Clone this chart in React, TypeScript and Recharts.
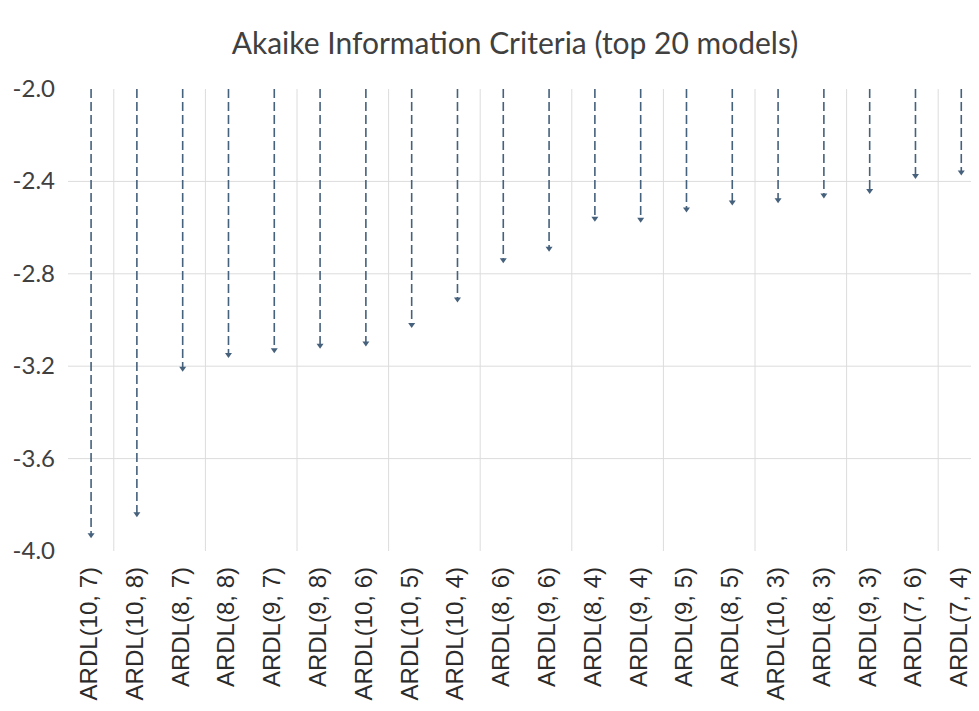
import React from 'react'
import { ComposedChart, Bar, XAxis, YAxis, CartesianGrid } from 'recharts'

const models = [
  'ARDL(10, 7)', 'ARDL(10, 8)', 'ARDL(8, 7)', 'ARDL(8, 8)', 'ARDL(9, 7)',
  'ARDL(9, 8)', 'ARDL(10, 6)', 'ARDL(10, 5)', 'ARDL(10, 4)', 'ARDL(8, 6)',
  'ARDL(9, 6)', 'ARDL(8, 4)', 'ARDL(9, 4)', 'ARDL(9, 5)', 'ARDL(8, 5)',
  'ARDL(10, 3)', 'ARDL(8, 3)', 'ARDL(9, 3)', 'ARDL(7, 6)', 'ARDL(7, 4)',
]
const aicValues = [
  -3.94, -3.85, -3.22, -3.16, -3.14,
  -3.12, -3.11, -3.03, -2.92, -2.75,
  -2.70, -2.57, -2.575, -2.53, -2.50,
  -2.49, -2.47, -2.45, -2.385, -2.37,
]
const yTicks = [-2.0, -2.4, -2.8, -3.2, -3.6, -4.0]
const gridValues = [-2.4, -2.8, -3.2, -3.6]

const data = models.map((name, i) => ({ name, aic: aicValues[i] }))

const LINE = '#46617c'
const TEXT = '#404040'

// dashed drop line from the top of the axis down to the criterion value
function DropLine(props: any) {
  const { x, y, width, height } = props
  const cx = x + width / 2
  const top = Math.min(y, y + height)
  const bottom = Math.max(y, y + height)
  return (
    <g>
      <line x1={cx} y1={top} x2={cx} y2={bottom - 2} stroke={LINE} strokeWidth={1.6} strokeDasharray="9 4" />
      <path d={`M${cx - 3.5},${bottom - 4} L${cx + 3.5},${bottom - 4} L${cx},${bottom + 1} Z`} fill={LINE} />
    </g>
  )
}

function ModelTick(props: any) {
  const { x, y, payload } = props
  return (
    <text
      x={0}
      y={0}
      transform={`translate(${x + 6},${y + 8}) rotate(-90)`}
      textAnchor="end"
      fontFamily="'Liberation Sans', Arial, sans-serif"
      fontSize={24}
      fill="#2b2b2b"
    >
      {payload.value}
    </text>
  )
}

function ValueTick(props: any) {
  const { x, y, payload } = props
  return (
    <text x={x - 5} y={y + 8} textAnchor="end" fontFamily="Lato, sans-serif" fontSize={24} fill={TEXT}>
      {payload.value.toFixed(1)}
    </text>
  )
}

// a vertical rule after every second model
const pairLines = ({ offset }: any) =>
  models.map((_, k) => k).filter(k => k % 2 === 1).map(k => offset.left + (offset.width * k) / models.length)

export default function App() {
  return (
    <div style={{ position: 'relative', width: 971, height: 695, overflow: 'hidden', background: '#fff' }}>
      <div
        style={{
          position: 'absolute', top: 16, left: 0, width: 1014, textAlign: 'center',
          fontFamily: 'Lato, sans-serif', fontSize: 30, color: TEXT, whiteSpace: 'nowrap',
        }}
      >
        Akaike Information Criteria (top 20 models)
      </div>
      <ComposedChart width={976} height={695} data={data} margin={{ top: 81, right: 0, bottom: 0, left: 0 }}>
        <CartesianGrid
          stroke="#dcdcdc"
          horizontalValues={gridValues}
          verticalCoordinatesGenerator={pairLines}
        />
        <XAxis dataKey="name" interval={0} axisLine={false} tickLine={false} height={152} tick={<ModelTick />} />
        <YAxis
          type="number"
          domain={[-4, -2]}
          ticks={yTicks}
          width={60}
          axisLine={false}
          tickLine={false}
          tick={<ValueTick />}
        />
        <Bar dataKey="aic" isAnimationActive={false} shape={<DropLine />} />
      </ComposedChart>
    </div>
  )
}
